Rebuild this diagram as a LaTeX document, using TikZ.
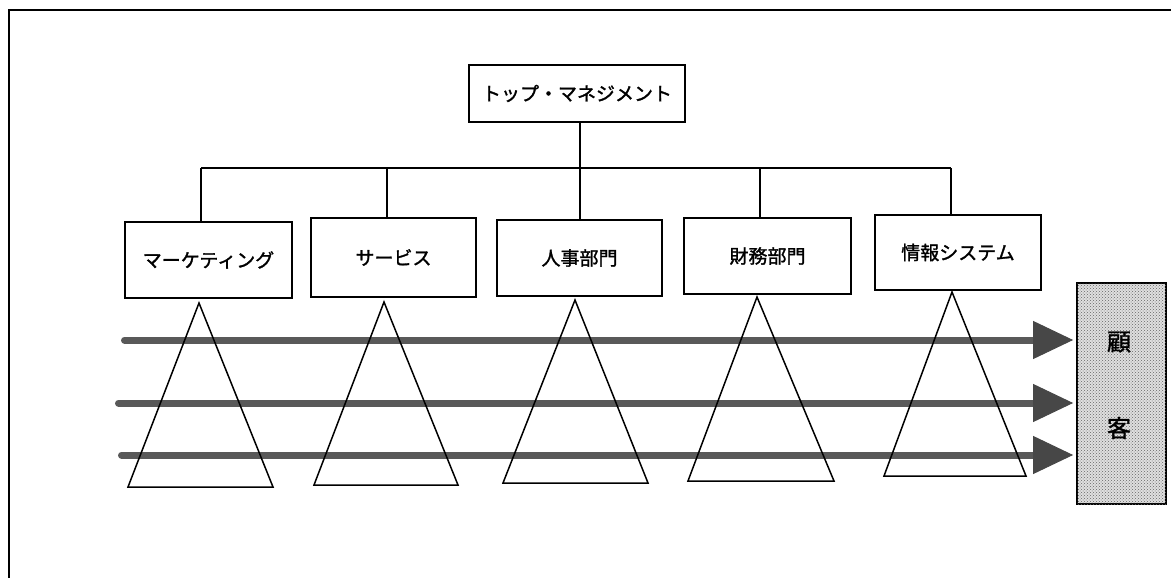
\documentclass[tikz,border=0pt]{standalone}
\usepackage{fontspec}
\setmainfont{Noto Sans CJK JP}[BoldFont={Noto Sans CJK JP}, BoldFeatures={FakeBold=1.5}]
\usetikzlibrary{arrows.meta,patterns}
\begin{document}
\begin{tikzpicture}[x=1pt,y=-1pt,
  box/.style={draw, line width=1.6pt, fill=white, inner sep=0pt, font=\fontsize{19}{19}\selectfont\bfseries},
  conn/.style={line width=1.6pt},
  tri/.style={line width=1.5pt, line join=miter},
  flow/.style={line width=7pt, draw=black!65, line cap=round,
    -{Triangle[length=40pt,width=38pt,color=black!72,fill=black!72,line width=1pt]}, shorten >=3pt},
  cust/.style={draw, line width=1.8pt, fill=gray!25,
    postaction={pattern=crosshatch dots, pattern color=black!60},
    minimum width=89pt, minimum height=221pt, inner sep=0pt},
  custtext/.style={font=\fontsize{24}{24}\selectfont\bfseries}
]
\useasboundingbox (0,0) rectangle (1171,578);
% outer frame (only top and left edges visible)
\draw[line width=1.8pt] (9,578) -- (9,10) -- (1171,10);

% top management
\node[box, minimum width=216pt, minimum height=57pt] (top) at (577,93.5) {トップ・マネジメント};

% departments
\node[box, minimum width=167pt, minimum height=76pt] (mk) at (208.5,260) {マーケティング};
\node[box, minimum width=165pt, minimum height=79pt] (sv) at (393.5,257.5) {サービス};
\node[box, minimum width=165pt, minimum height=76pt] (hr) at (579.5,258) {人事部門};
\node[box, minimum width=167pt, minimum height=76pt] (fi) at (767.5,256) {財務部門};
\node[box, minimum width=166pt, minimum height=75pt] (is) at (958,252.5) {情報システム};

% bus
\coordinate (bT) at (580,168);
\coordinate (b1) at (201,168);
\coordinate (b2) at (387,168);
\coordinate (b3) at (580,168);
\coordinate (b4) at (760,168);
\coordinate (b5) at (951,168);
\draw[conn] (b1) -- (b5);
\draw[conn] (bT) -- (bT |- top.south);
\draw[conn] (b1) -- (b1 |- mk.north);
\draw[conn] (b2) -- (b2 |- sv.north);
\draw[conn] (b3) -- (b3 |- hr.north);
\draw[conn] (b4) -- (b4 |- fi.north);
\draw[conn] (b5) -- (b5 |- is.north);

% customer box
\node[cust] (c) at (1121.5,393.5) {};
\node[custtext] (c1) at (1119,342) {顧};
\node[custtext] (c2) at (1119,428) {客};

% flows
\coordinate (a1) at (124.5,340);
\coordinate (a2) at (118.5,403);
\coordinate (a3) at (121.5,455);
\draw[flow] (a1) -- (a1 -| c.west);
\draw[flow] (a2) -- (a2 -| c.west);
\draw[flow] (a3) -- (a3 -| c.west);

% triangles
\draw[tri] (199,303) -- (273,487) -- (128,487) -- cycle;
\draw[tri] (384,302) -- (458,485) -- (314,485) -- cycle;
\draw[tri] (575,300) -- (648,483) -- (503,483) -- cycle;
\draw[tri] (757,297) -- (834,481) -- (688,481) -- cycle;
\draw[tri] (952,292) -- (1026,476) -- (884,476) -- cycle;
\end{tikzpicture}
\end{document}
